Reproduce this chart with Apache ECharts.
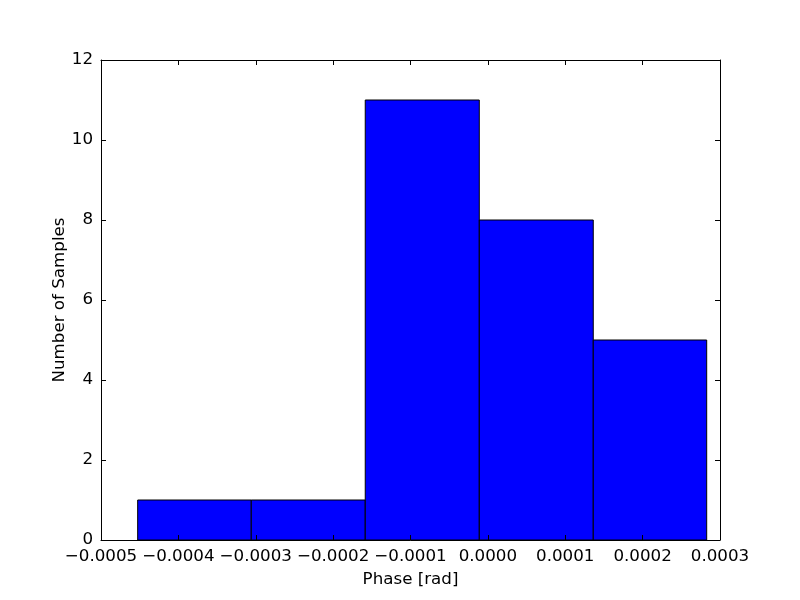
<!DOCTYPE html>
<html>
<head>
<meta charset="utf-8">
<script src="https://cdn.jsdelivr.net/npm/echarts@6/dist/echarts.min.js"></script>
<style>
  html, body { margin: 0; padding: 0; background: #fff; }
  #chart { width: 800px; height: 600px; }
</style>
</head>
<body>
<div id="chart"></div>
<script>
// histogram bin edges (rad) and counts
const binEdges = [-0.0004526, -0.0003058, -0.0001585, -0.0000111, 0.0001362, 0.0002828];
const counts = [1, 1, 11, 8, 5];

const FONT = 'DejaVu Sans';
const fmt = v => (v < 0 ? '\u2212' : '') + Math.abs(v).toFixed(4);

const bars = counts.map((c, i) => [binEdges[i], binEdges[i + 1], c]);

const chart = echarts.init(document.getElementById('chart'));

const tickIn = { show: true, inside: true, length: 5, lineStyle: { color: '#000', width: 1 } };
const frameLine = { show: true, onZero: false, lineStyle: { color: '#000', width: 1 } };

chart.setOption({
  animation: false,
  grid: { left: 101, right: 80, top: 60, bottom: 60 },
  xAxis: [{
    type: 'value', min: -0.0005, max: 0.0003, interval: 0.0001, z: 5,
    name: 'Phase [rad]', nameLocation: 'middle', nameGap: 31, nameMoveOverlap: false,
    nameTextStyle: { fontFamily: FONT, fontSize: 16.7, color: '#000' },
    axisLine: frameLine,
    axisTick: tickIn,
    axisLabel: { fontFamily: FONT, fontSize: 16.7, color: '#000', margin: 8, formatter: fmt },
    splitLine: { show: false }
  }, {
    type: 'value', position: 'top', min: -0.0005, max: 0.0003, interval: 0.0001, z: 5,
    axisLine: frameLine,
    axisTick: tickIn, axisLabel: { show: false }, splitLine: { show: false }
  }],
  yAxis: [{
    type: 'value', min: 0, max: 12, interval: 2, z: 5,
    name: 'Number of Samples', nameLocation: 'middle', nameGap: 33, nameMoveOverlap: false,
    nameTextStyle: { fontFamily: FONT, fontSize: 16.7, color: '#000' },
    axisLine: frameLine,
    axisTick: tickIn,
    axisLabel: { fontFamily: FONT, fontSize: 16.7, color: '#000', margin: 8 },
    splitLine: { show: false }
  }, {
    type: 'value', position: 'right', min: 0, max: 12, interval: 2, z: 5,
    axisLine: frameLine,
    axisTick: tickIn, axisLabel: { show: false }, splitLine: { show: false }
  }],
  series: [{
    type: 'custom',
    xAxisIndex: 0, yAxisIndex: 0, z: 1,
    data: bars,
    encode: { x: [0, 1], y: 2 },
    renderItem: (params, api) => {
      const p0 = api.coord([api.value(0), api.value(2)]);
      const p1 = api.coord([api.value(1), 0]);
      return {
        type: 'rect',
        shape: { x: p0[0], y: p0[1], width: p1[0] - p0[0], height: p1[1] - p0[1] },
        style: { fill: '#0000ff', stroke: '#000', lineWidth: 1 }
      };
    }
  }]
});
</script>
</body>
</html>
